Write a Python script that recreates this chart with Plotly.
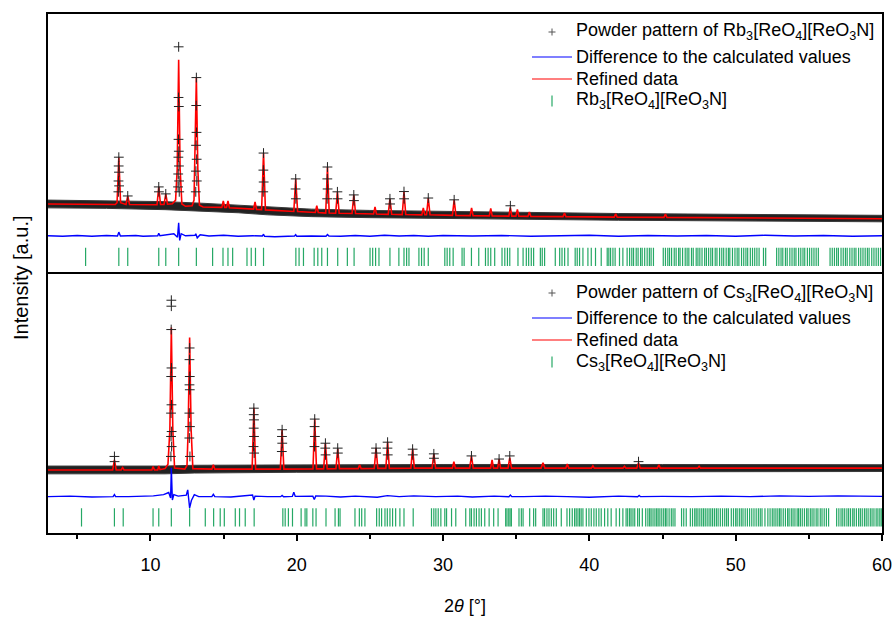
import plotly.graph_objects as go

# ---------------- Rb3[ReO4][ReO3N] ----------------
# refined profile (2θ, intensity a.u.)
rb_calc = [
    (3.0, 26.5), (7.60, 26.3), (7.72, 27.0), (7.84, 44.6), (7.96, 27.0),
    (8.33, 26.3), (8.45, 29.6), (8.57, 26.3), (10.45, 26.2), (10.57, 33.1),
    (10.69, 26.3), (10.93, 26.3), (11.05, 30.4), (11.17, 26.4), (11.50, 26.6),
    (11.72, 28.0), (11.83, 40.0), (11.93, 82.3), (12.03, 40.0), (12.15, 26.5),
    (12.40, 25.6), (12.85, 25.8), (12.98, 28.0), (13.05, 45.0), (13.14, 75.4),
    (13.24, 40.0), (13.35, 26.0), (13.60, 25.3), (14.88, 25.2), (14.98, 27.7),
    (15.08, 25.2), (15.20, 25.2), (15.30, 27.7), (15.40, 25.0), (17.05, 24.5),
    (17.15, 27.3), (17.25, 24.4), (17.60, 24.3), (17.73, 46.2), (17.86, 24.2),
    (19.80, 23.6), (19.93, 36.2), (20.06, 23.6), (21.27, 23.2), (21.37, 25.8),
    (21.47, 23.2), (21.98, 23.0), (22.10, 40.8), (22.22, 23.0), (22.66, 22.9),
    (22.78, 31.2), (22.90, 22.9), (23.78, 22.8), (23.90, 30.0), (24.02, 22.8),
    (25.25, 22.6), (25.35, 25.4), (25.45, 22.6), (26.25, 22.5), (26.37, 28.5),
    (26.49, 22.5), (27.21, 22.4), (27.33, 31.2), (27.45, 22.4), (28.55, 22.3),
    (28.65, 25.0), (28.75, 22.3), (28.87, 22.3), (28.99, 28.8), (29.11, 22.3),
    (30.64, 22.1), (30.76, 28.1), (30.88, 22.1), (31.85, 22.0), (31.95, 25.0),
    (32.05, 22.0), (33.16, 21.9), (33.26, 24.8), (33.36, 21.9), (34.50, 21.8),
    (34.60, 25.2), (34.70, 21.8), (34.98, 21.8), (35.08, 24.4), (35.18, 21.8),
    (35.80, 21.7), (35.90, 23.4), (36.00, 21.7), (38.20, 21.6), (38.30, 23.0),
    (38.40, 21.6), (41.70, 21.4), (41.80, 22.7), (41.90, 21.4), (45.10, 21.3),
    (45.20, 22.6), (45.30, 21.3), (60.0, 20.8),
]
# observed points on the reflections
rb_obs = [
    (7.84, 44.6), (7.83, 41.2), (7.85, 38.8), (7.82, 35.4), (7.86, 33.5), (7.81, 31.2),
    (8.45, 29.6), (10.57, 33.1), (10.58, 31.2), (11.05, 30.4),
    (11.93, 87.3), (11.92, 67.7), (11.94, 64.2), (11.92, 51.5), (11.94, 46.9),
    (11.91, 44.6), (11.95, 41.2), (11.90, 38.1), (11.96, 35.4), (11.89, 33.1), (11.97, 31.2),
    (13.14, 75.4), (13.13, 64.6), (13.15, 54.2), (13.12, 49.2), (13.16, 43.8),
    (13.11, 39.2), (13.17, 35.4), (13.10, 31.2),
    (17.73, 46.2), (17.72, 39.6), (17.74, 35.0), (17.71, 31.2),
    (19.93, 36.2), (19.92, 32.3), (19.94, 28.5),
    (22.10, 40.8), (22.09, 36.2), (22.11, 32.3), (22.08, 28.5),
    (22.78, 31.2), (22.79, 28.5), (23.90, 30.0), (23.91, 27.8),
    (26.37, 28.5), (26.38, 26.5), (27.33, 31.3), (27.34, 28.5),
    (28.99, 28.8), (30.76, 28.1), (34.60, 25.8),
]
# spread of the measured points along the background
rb_band_upper = [(3.0, 28.0), (7.0, 27.8), (11.0, 27.4), (13.5, 26.8), (16.0, 26.1),
                 (18.0, 25.3), (21.0, 24.5), (25.0, 24.0), (32.0, 23.4), (42.0, 22.8), (60.0, 22.1)]
rb_band_lower = [(3.0, 25.0), (7.0, 24.8), (11.0, 24.3), (13.5, 23.7), (16.0, 23.1),
                 (18.0, 22.3), (21.0, 21.6), (25.0, 21.2), (32.0, 20.7), (42.0, 20.2), (60.0, 19.6)]
# observed minus calculated (shifted)
rb_diff = [
    (3.0, 14.2), (4.0, 14.0), (5.0, 14.3), (6.0, 14.0), (7.0, 14.3), (7.75, 14.1),
    (7.84, 15.6), (7.95, 14.1), (9.0, 14.3), (9.5, 14.0), (10.5, 14.2), (10.57, 15.2),
    (10.65, 14.2), (11.0, 14.6), (11.6, 15.0), (11.85, 13.6), (11.93, 19.2), (12.0, 12.4),
    (12.1, 15.0), (12.4, 14.2), (13.05, 14.4), (13.1, 15.0), (13.2, 13.4), (13.4, 14.6),
    (14.0, 14.1), (15.0, 14.4), (16.0, 14.0), (17.0, 14.2), (17.65, 14.1), (17.73, 14.8),
    (17.8, 14.0), (18.5, 13.8), (19.85, 14.1), (19.93, 14.6), (20.0, 14.0), (21.0, 14.1),
    (22.0, 14.0), (22.1, 14.7), (22.2, 14.1), (23.0, 14.0), (24.0, 14.3), (25.0, 14.0),
    (26.0, 14.4), (27.0, 14.1), (28.0, 14.3), (29.0, 14.0), (30.0, 14.3), (32.0, 14.1),
    (34.0, 14.3), (36.0, 14.0), (38.0, 14.2), (40.0, 14.4), (42.0, 14.0), (44.0, 14.3),
    (46.0, 14.1), (48.0, 14.3), (50.0, 14.0), (52.0, 14.4), (54.0, 14.1), (56.0, 14.3),
    (58.0, 14.0), (60.0, 14.2),
]
# calculated reflection positions (2θ)
rb_reflections = [
    5.57, 7.84, 8.45, 10.57, 11.05, 11.93, 13.14, 14.25, 14.96, 15.30, 15.62, 16.6,
    16.89, 17.18, 17.73, 19.94, 20.16, 20.46, 21.19, 21.44, 21.71, 22.1, 22.8, 23.46,
    23.92, 25.01, 25.19, 25.39, 25.62, 26.37, 26.98, 27.33, 27.51, 27.67, 28.35, 28.53,
    28.71, 28.99, 30.12, 30.28, 30.46, 30.69, 31.30, 31.44, 31.94, 32.44, 32.90, 33.08,
    33.26, 33.53, 34.03, 34.22, 34.40, 34.56, 35.12, 35.47, 35.69, 35.85, 36.03, 36.19,
    36.65, 36.78, 36.94, 37.67, 37.97, 38.13, 38.31, 38.54, 39.03, 39.17, 39.33, 39.56,
    39.90, 40.13, 40.42, 40.81, 41.22, 41.33, 41.45, 41.61, 41.76, 42.06, 42.29, 42.58,
    42.75, 42.9, 43.02, 43.2, 43.33, 43.5, 43.61, 43.78, 43.95, 44.1, 44.22, 44.38,
    45.05, 45.2, 45.36, 45.48, 45.62, 45.8, 45.93, 46.1, 46.2, 46.37, 46.55, 46.68,
    46.8, 46.98, 47.1, 47.3, 47.42, 47.55, 47.7, 47.88, 48.0, 48.15, 48.3, 48.42,
    48.6, 48.72, 48.9, 49.05, 49.18, 49.35, 49.5, 49.6, 49.78, 49.95, 50.1, 50.22,
    50.4, 50.55, 50.7, 50.82, 51.0, 51.15, 51.3, 51.45, 51.6, 51.9, 52.05, 52.8,
    52.95, 53.1, 53.22, 53.4, 53.52, 53.7, 53.85, 54.0, 54.12, 54.3, 54.45, 54.6,
    54.72, 54.9, 55.05, 55.2, 55.35, 55.5, 55.65, 56.45, 56.6, 56.75, 56.9, 57.02,
    57.2, 57.35, 57.5, 57.62, 57.8, 57.95, 58.1, 58.22, 58.4, 58.55, 58.7, 58.85,
    59.0, 59.12, 59.3, 59.45, 59.6, 59.75, 59.9,
]

# ---------------- Cs3[ReO4][ReO3N] ----------------
cs_calc = [
    (3.0, 24.3), (7.42, 24.3), (7.54, 28.2), (7.66, 24.3), (8.00, 24.3), (8.10, 25.2),
    (8.20, 24.3), (10.10, 24.3), (10.18, 25.6), (10.28, 24.3), (10.50, 24.3), (10.57, 25.8),
    (10.66, 24.4), (11.00, 24.8), (11.20, 26.5), (11.33, 40.0), (11.43, 79.2), (11.53, 40.0),
    (11.65, 25.0), (12.35, 24.6), (12.50, 26.0), (12.58, 40.0), (12.68, 75.3), (12.78, 40.0),
    (12.90, 24.8), (14.20, 24.6), (14.30, 26.3), (14.40, 24.6), (16.95, 24.6), (17.07, 48.3),
    (17.19, 24.6), (18.88, 24.6), (19.00, 39.8), (19.12, 24.6), (21.11, 24.7), (21.23, 44.0),
    (21.35, 24.7), (21.84, 24.7), (21.96, 34.7), (22.08, 24.7), (22.68, 24.8), (22.80, 32.4),
    (22.92, 24.8), (24.20, 24.8), (24.30, 26.3), (24.40, 24.8), (25.30, 24.9), (25.42, 32.8),
    (25.54, 24.9), (26.09, 24.9), (26.21, 35.1), (26.33, 24.9), (27.80, 25.0), (27.92, 32.4),
    (28.04, 25.0), (29.25, 25.0), (29.37, 30.5), (29.49, 25.0), (30.64, 25.0), (30.74, 27.5),
    (30.84, 25.0), (31.82, 25.0), (31.94, 29.7), (32.06, 25.0), (33.25, 25.0), (33.35, 28.2),
    (33.45, 25.0), (33.73, 25.0), (33.83, 28.5), (33.93, 25.0), (34.44, 25.0), (34.56, 29.0),
    (34.68, 25.0), (36.70, 25.0), (36.83, 27.1), (36.96, 25.0), (38.39, 25.0), (38.49, 26.6),
    (38.59, 25.0), (40.14, 25.0), (40.24, 25.9), (40.34, 25.0), (42.30, 25.0), (42.40, 25.7),
    (42.50, 25.0), (43.24, 25.0), (43.36, 27.1), (43.48, 25.0), (44.65, 25.0), (44.75, 26.3),
    (44.85, 25.0), (47.40, 25.0), (47.50, 25.7), (47.60, 25.0), (60.0, 25.0),
]
cs_obs = [
    (7.54, 29.5), (7.55, 27.5),
    (11.43, 89.7), (11.43, 87.4), (11.42, 78.4), (11.44, 63.6), (11.42, 60.3),
    (11.44, 49.4), (11.41, 46.2), (11.45, 39.1), (11.41, 37.2), (11.45, 33.3), (11.40, 29.5),
    (12.68, 71.3), (12.67, 66.8), (12.69, 60.3), (12.67, 57.1), (12.69, 55.2),
    (12.66, 46.2), (12.70, 41.0), (12.66, 36.6), (12.70, 29.5),
    (17.07, 48.1), (17.06, 45.6), (17.08, 43.6), (17.06, 40.4), (17.08, 37.2), (17.05, 33.3), (17.09, 30.8),
    (19.00, 39.8), (18.99, 37.2), (19.01, 34.6), (18.98, 31.4),
    (21.23, 43.9), (21.22, 41.0), (21.24, 37.2), (21.21, 33.3),
    (21.96, 34.6), (21.95, 32.7), (21.97, 30.1), (22.80, 32.7), (22.81, 30.8),
    (25.42, 32.7), (25.43, 30.8), (26.21, 35.0), (26.20, 32.7), (26.22, 30.1),
    (27.92, 32.3), (27.93, 30.1), (29.37, 30.5), (29.38, 28.8), (31.94, 29.7),
    (33.83, 28.5), (34.56, 29.7), (43.36, 27.5),
]
cs_band_upper = [(3.0, 25.8), (11.0, 25.8), (13.0, 26.1), (20.0, 26.3), (30.0, 26.4),
                 (45.0, 26.4), (60.0, 26.3)]
cs_band_lower = [(3.0, 22.8), (11.0, 22.8), (13.0, 23.1), (20.0, 23.4), (30.0, 23.6),
                 (45.0, 23.6), (60.0, 23.7)]
cs_diff = [
    (3.0, 14.0), (4.5, 14.2), (6.0, 13.9), (7.45, 14.0), (7.54, 14.8), (7.62, 14.0),
    (8.5, 14.0), (9.5, 14.2), (10.2, 14.3), (10.9, 14.8), (11.25, 15.6), (11.38, 13.5),
    (11.43, 25.1), (11.5, 12.7), (11.6, 14.8), (11.9, 14.2), (12.45, 14.6), (12.55, 16.6),
    (12.68, 9.7), (12.8, 12.5), (13.0, 14.8), (13.3, 14.0), (14.2, 14.0), (14.3, 14.9),
    (14.4, 14.0), (15.5, 13.9), (16.5, 14.2), (16.98, 14.6), (17.07, 12.7), (17.15, 14.2),
    (18.0, 14.0), (18.9, 14.0), (19.0, 14.5), (19.1, 14.0), (19.7, 14.1), (19.8, 15.7),
    (19.9, 14.1), (21.1, 14.2), (21.2, 12.9), (21.3, 14.3), (22.0, 14.2), (23.0, 13.9),
    (24.0, 14.2), (25.5, 13.8), (26.2, 14.4), (27.0, 14.0), (28.0, 14.3), (29.5, 14.0),
    (31.0, 14.2), (32.0, 13.9), (33.5, 14.2), (34.5, 14.0), (34.6, 14.6), (34.7, 14.0),
    (35.5, 14.0), (37.0, 14.2), (38.5, 14.0), (40.0, 13.8), (42.0, 14.2), (43.3, 14.0),
    (43.4, 14.5), (43.5, 14.0), (45.0, 14.1), (47.0, 14.0), (49.0, 14.2), (51.0, 14.0),
    (53.0, 14.3), (55.0, 14.1), (57.0, 14.3), (59.0, 14.0), (60.0, 14.1),
]
cs_reflections = [
    5.29, 7.54, 8.14, 10.18, 10.57, 11.43, 12.68, 13.75, 14.32, 14.77, 15.05, 15.8,
    16.09, 16.48, 17.09, 19.05, 19.21, 19.43, 19.71, 20.3, 20.57, 20.69, 21.1, 21.32,
    22.0, 22.62, 22.85, 22.96, 23.98, 24.28, 24.44, 24.66, 25.46, 25.64, 25.80, 26.03,
    26.19, 26.37, 26.55, 26.76, 27.05, 27.33, 27.96, 29.21, 29.37, 29.51, 29.67, 29.85,
    30.12, 30.24, 30.58, 30.87, 31.55, 31.83, 31.94, 32.12, 32.28, 32.46, 32.62, 32.85,
    33.15, 33.46, 33.76, 34.28, 34.37, 34.49, 34.58, 34.67, 35.19, 35.35, 35.47, 35.92,
    36.19, 36.33, 36.83, 36.94, 37.10, 37.24, 37.40, 37.56, 37.74, 38.08, 38.47, 38.65,
    38.83, 38.99, 39.10, 39.22, 39.33, 39.44, 39.56, 39.79, 39.97, 40.13, 40.31, 40.47,
    40.65, 40.81, 41.04, 41.26, 41.49, 41.83, 42.06, 42.29, 42.51, 42.62, 42.75, 42.85,
    42.98, 43.1, 43.3, 43.42, 43.62, 43.85, 44.0, 44.12, 44.22, 44.35, 44.48, 44.6,
    44.7, 44.82, 44.95, 45.08, 45.2, 45.3, 45.45, 45.6, 45.72, 45.85, 46.3, 46.45,
    46.62, 46.9, 47.05, 47.2, 47.3, 47.42, 47.55, 47.68, 47.8, 47.92, 48.05, 48.18,
    48.3, 48.42, 48.55, 48.68, 48.8, 48.95, 49.1, 49.25, 49.38, 49.5, 49.7, 49.85,
    50.0, 50.1, 50.25, 50.38, 50.5, 50.65, 50.8, 50.95, 51.1, 51.25, 51.4, 51.55,
    51.68, 51.8, 52.0, 52.2, 52.35, 52.5, 52.62, 52.75, 52.88, 53.0, 53.1, 53.25,
    53.4, 53.55, 53.65, 53.8, 53.92, 54.05, 54.2, 54.3, 54.42, 54.55, 54.7, 54.85,
    54.95, 55.1, 55.22, 55.35, 55.5, 55.62, 55.78, 55.9, 56.05, 56.2, 56.35, 56.9,
    57.05, 57.2, 57.32, 57.45, 57.6, 57.72, 57.85, 58.0, 58.1, 58.25, 58.4, 58.52,
    58.65, 58.8, 58.92, 59.05, 59.2, 59.32, 59.45, 59.6, 59.72, 59.85, 59.95,
]

phase_labels = {
    "rb": "Rb<sub>3</sub>[ReO<sub>4</sub>][ReO<sub>3</sub>N]",
    "cs": "Cs<sub>3</sub>[ReO<sub>4</sub>][ReO<sub>3</sub>N]",
}

RED = "#ff0000"
BLUE = "#0000ff"
GREEN = "#25a865"
FONT = "Liberation Sans, Arial, sans-serif"
TICK_ROW = 6.0  # vertical level of the reflection markers

# figure geometry (pixels) used to place the legend keys
W, H = 893, 617
ML, MR, MT, MB = 48, 11, 14, 84
PLOT_W = W - ML - MR
PLOT_H = H - MT - MB


def px_x(px):
    return (px - ML) / PLOT_W


def px_y(py):
    return (H - MB - py) / PLOT_H


def unzip(pts):
    return [p[0] for p in pts], [p[1] for p in pts]


def add_panel(fig, calc, obs, upper, lower, diff, refl, label, xa, ya):
    ux, uy = unzip(upper)
    lx, ly = unzip(lower)
    fig.add_trace(go.Scatter(
        x=ux + lx[::-1], y=uy + ly[::-1], fill="toself", fillcolor="#222222",
        mode="lines", line=dict(width=1, color="#3a3a3a"),
        showlegend=False, hoverinfo="skip", xaxis=xa, yaxis=ya))
    cx, cy = unzip(calc)
    fig.add_trace(go.Scatter(
        x=cx, y=cy, mode="lines", line=dict(color=RED, width=1.6),
        name="Refined data", showlegend=False, xaxis=xa, yaxis=ya))
    ox, oy = unzip(obs)
    fig.add_trace(go.Scatter(
        x=ox, y=oy, mode="markers",
        marker=dict(symbol="cross-thin", size=7, line=dict(color="#222222", width=1)),
        name="Powder pattern of " + label, showlegend=False, xaxis=xa, yaxis=ya))
    dx, dy = unzip(diff)
    fig.add_trace(go.Scatter(
        x=dx, y=dy, mode="lines", line=dict(color=BLUE, width=1.4),
        name="Difference to the calculated values", showlegend=False,
        xaxis=xa, yaxis=ya))
    fig.add_trace(go.Scatter(
        x=refl, y=[TICK_ROW] * len(refl), mode="markers",
        marker=dict(symbol="line-ns", size=13, line=dict(color=GREEN, width=1.2)),
        name=label, showlegend=False, xaxis=xa, yaxis=ya))


def legend_block(label, rows_px, text_left=574, key_left=532, key_right=572):
    """Key symbols and texts of one panel legend."""
    shapes, notes = [], []
    texts = ["Powder pattern of " + label, "Difference to the calculated values",
             "Refined data", label]
    kc = (key_left + key_right) / 2
    for i, (txt, ry) in enumerate(zip(texts, rows_px)):
        notes.append(dict(text=txt, xref="paper", yref="paper", x=px_x(text_left),
                          y=px_y(ry), xanchor="left", yanchor="middle",
                          showarrow=False, font=dict(family=FONT, size=18)))
        line = dict(type="line", xref="paper", yref="paper")
        if i == 0:
            shapes.append(dict(line, x0=px_x(kc - 3.5), x1=px_x(kc + 3.5),
                               y0=px_y(ry), y1=px_y(ry), line=dict(color="#555", width=1)))
            shapes.append(dict(line, x0=px_x(kc), x1=px_x(kc),
                               y0=px_y(ry - 3.5), y1=px_y(ry + 3.5),
                               line=dict(color="#555", width=1)))
        elif i in (1, 2):
            col = BLUE if i == 1 else RED
            shapes.append(dict(line, x0=px_x(key_left), x1=px_x(key_right),
                               y0=px_y(ry), y1=px_y(ry), line=dict(color=col, width=1.2)))
        else:
            shapes.append(dict(line, x0=px_x(kc), x1=px_x(kc),
                               y0=px_y(ry - 5.5), y1=px_y(ry + 5.5),
                               line=dict(color=GREEN, width=1.2)))
    return shapes, notes


fig = go.Figure()
add_panel(fig, rb_calc, rb_obs, rb_band_upper, rb_band_lower, rb_diff,
          rb_reflections, phase_labels["rb"], "x", "y")
add_panel(fig, cs_calc, cs_obs, cs_band_upper, cs_band_lower, cs_diff,
          cs_reflections, phase_labels["cs"], "x2", "y2")

sh_top, an_top = legend_block(phase_labels["rb"], [32, 57, 79, 101])
sh_bot, an_bot = legend_block(phase_labels["cs"], [293, 318, 340, 362])

frame = dict(showline=True, mirror=True, linecolor="black", linewidth=2,
             showgrid=False, zeroline=False, automargin=False)

fig.update_layout(
    width=W, height=H,
    margin=dict(l=ML, r=MR, t=MT, b=MB),
    paper_bgcolor="white", plot_bgcolor="white",
    font=dict(family=FONT, size=18, color="black"),
    showlegend=False,
    xaxis=dict(domain=[0, 1], range=[3, 60], anchor="y", ticks="",
               showticklabels=False, **frame),
    yaxis=dict(domain=[0.502, 1], range=[0, 100], ticks="",
               showticklabels=False, **frame),
    xaxis2=dict(domain=[0, 1], range=[3, 60], anchor="y2", matches="x",
                ticks="outside", ticklen=6, tickwidth=1.5, tickcolor="black",
                tick0=0, dtick=10, ticklabelstandoff=8,
                minor=dict(ticks="outside", ticklen=4, tickwidth=1.5,
                           tickcolor="black", tick0=5, dtick=10),
                title=dict(text="2<i>θ</i> [°]", standoff=26,
                           font=dict(family=FONT, size=18)),
                **frame),
    yaxis2=dict(domain=[0, 0.5], range=[0, 100], ticks="",
                showticklabels=False, **frame),
    shapes=sh_top + sh_bot,
    annotations=an_top + an_bot + [
        dict(text="Intensity [a.u.]", xref="paper", yref="paper",
             x=px_x(21), y=px_y(278), xanchor="center", yanchor="middle",
             textangle=-90, showarrow=False, font=dict(family=FONT, size=20))],
)

fig.write_html("out.html")
